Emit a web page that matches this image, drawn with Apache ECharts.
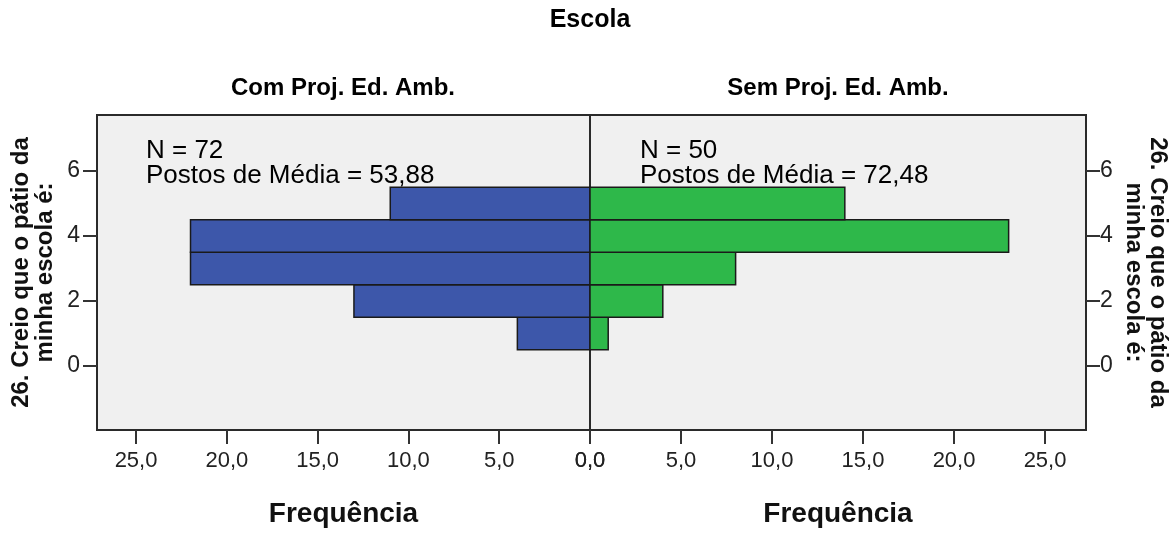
<!DOCTYPE html>
<html>
<head>
<meta charset="utf-8">
<script src="https://cdn.jsdelivr.net/npm/echarts@6/dist/echarts.min.js"></script>
<style>
  html, body { margin: 0; padding: 0; background: #fff; }
  #chart { width: 1175px; height: 536px; }
</style>
</head>
<body>
<div id="chart"></div>
<script>
// Escola: frequência por resposta (pirâmide)
const respostas = [1, 2, 3, 4, 5];
const comProj = [4, 13, 22, 22, 11];   // Com Proj. Ed. Amb.
const semProj = [1, 4, 8, 23, 14];     // Sem Proj. Ed. Amb.
const xTicks = [0, 5, 10, 15, 20, 25];
const yTicks = [0, 2, 4, 6];
const grupos = ['Com Proj. Ed. Amb.', 'Sem Proj. Ed. Amb.'];
const stats = [
  ['N = 72', 'Postos de Média = 53,88'],
  ['N = 50', 'Postos de Média = 72,48']
];
const yNome = '26. Creio que o pátio da\nminha escola é:';

const FONT = 'Liberation Sans, Arial, sans-serif';
const fmt = v => v.toFixed(1).replace('.', ',');

// retangulo de cada barra a partir das escalas
const barItem = (params, api) => {
  let v = api.value(0), y = api.value(1);
  let p0 = api.coord([0, y - 0.5]);
  let p1 = api.coord([v, y + 0.5]);
  return {
    type: 'rect',
    shape: {
      x: Math.min(p0[0], p1[0]),
      y: Math.min(p0[1], p1[1]),
      width: Math.abs(p1[0] - p0[0]),
      height: Math.abs(p1[1] - p0[1])
    },
    style: { fill: api.visual('color'), stroke: '#1a1a1a', lineWidth: 1.5 }
  };
};

const xAxisCfg = (idx, max, inverse) => ({
  type: 'value',
  gridIndex: idx,
  min: 0,
  max: max,
  inverse: inverse,
  position: 'bottom',
  name: 'Frequência',
  nameLocation: 'middle',
  nameGap: 70,
  nameTextStyle: { fontFamily: FONT, fontSize: 28, fontWeight: 'bold', color: '#111' },
  axisLine: { show: false, onZero: false },
  axisTick: { show: true, length: 14, customValues: xTicks, lineStyle: { color: '#333', width: 2 } },
  axisLabel: { customValues: xTicks, formatter: fmt, margin: 20, fontFamily: FONT, fontSize: 22, color: '#222' },
  splitLine: { show: false }
});

const yAxisCfg = (idx, pos, rot, gap, margin) => ({
  type: 'value',
  gridIndex: idx,
  min: -1.97,
  max: 7.72,
  position: pos,
  name: yNome,
  nameLocation: 'middle',
  nameRotate: rot,
  nameGap: gap,
  nameTextStyle: { fontFamily: FONT, fontSize: 24, fontWeight: 'bold', color: '#111', lineHeight: 24, align: 'center' },
  axisLine: { show: false, onZero: false },
  axisTick: { show: true, length: 14, customValues: yTicks, lineStyle: { color: '#333', width: 2 } },
  axisLabel: { customValues: yTicks, margin: margin, fontFamily: FONT, fontSize: 23, color: '#222' },
  splitLine: { show: false }
});

const txt = (x, y, text, size, weight, align) => ({
  type: 'text', x: x, y: y, silent: true,
  style: { text: text, fontFamily: FONT, fontSize: size, fontWeight: weight, fill: '#000',
    align: align || 'center', verticalAlign: 'middle', lineHeight: 25 }
});

let myChart = echarts.init(document.getElementById('chart'));
let option = {
  backgroundColor: '#fff',
  animation: false,
  grid: [
    { left: 97, top: 115, width: 493, height: 315, show: true, backgroundColor: '#f0f0f0', borderColor: '#2a2a2a', borderWidth: 2 },
    { left: 590, top: 115, width: 496, height: 315, show: true, backgroundColor: '#f0f0f0', borderColor: '#2a2a2a', borderWidth: 2 }
  ],
  xAxis: [xAxisCfg(0, 27.15, true), xAxisCfg(1, 27.25, false)],
  yAxis: [yAxisCfg(0, 'left', 90, 40, 17), yAxisCfg(1, 'right', -90, 36, 14)],
  graphic: [
    txt(590, 20, 'Escola', 25, 'bold'),
    txt(343, 88, grupos[0], 24, 'bold'),
    txt(838, 88, grupos[1], 24, 'bold'),
    txt(146, 163, stats[0].join('\n'), 26, 'normal', 'left'),
    txt(640, 163, stats[1].join('\n'), 26, 'normal', 'left')
  ],
  series: [
    {
      type: 'custom',
      name: grupos[0],
      xAxisIndex: 0,
      yAxisIndex: 0,
      renderItem: barItem,
      itemStyle: { color: '#3d57aa' },
      encode: { x: 0, y: 1 },
      data: respostas.map((r, i) => [comProj[i], r])
    },
    {
      type: 'custom',
      name: grupos[1],
      xAxisIndex: 1,
      yAxisIndex: 1,
      renderItem: barItem,
      itemStyle: { color: '#2eb84a' },
      encode: { x: 0, y: 1 },
      data: respostas.map((r, i) => [semProj[i], r])
    }
  ]
};
myChart.setOption(option);
</script>
</body>
</html>
